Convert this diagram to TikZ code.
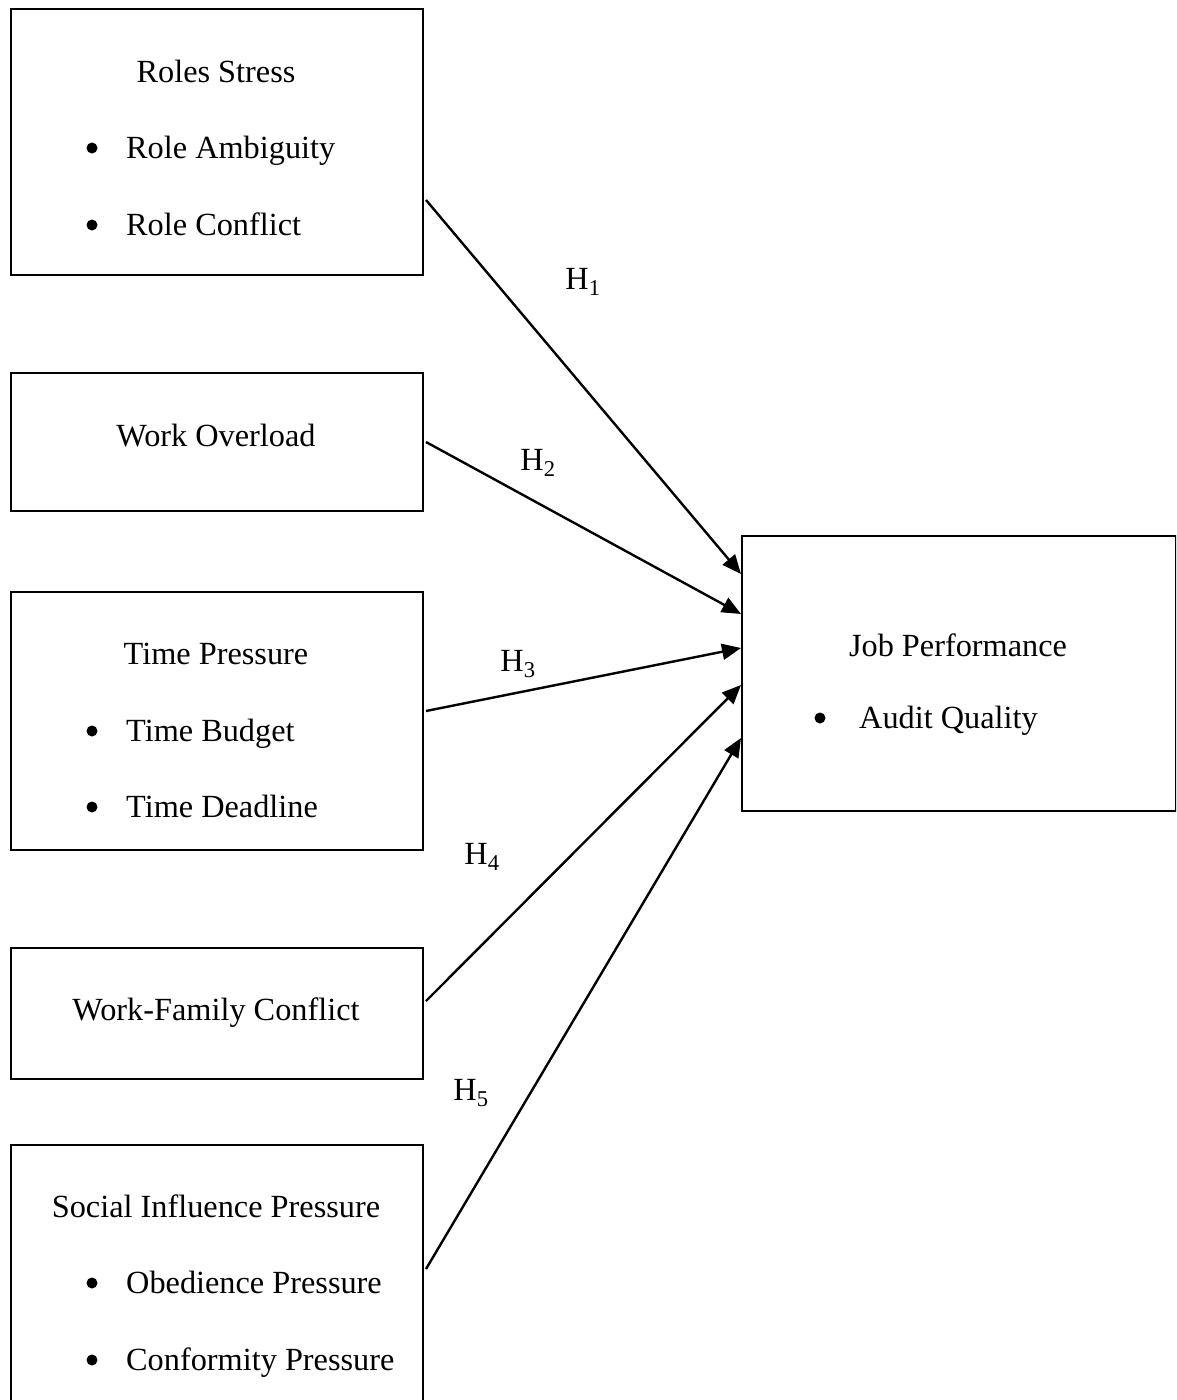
\documentclass[tikz,border=0pt]{standalone}
\usepackage{fontspec}
\setmainfont{Liberation Serif}
\usetikzlibrary{arrows.meta}
\begin{document}
\begin{tikzpicture}[x=1pt,y=-1pt,
  box/.style={draw,line width=2pt,minimum width=412pt,inner sep=0pt,anchor=north west},
  txt/.style={font=\fontsize{32.3}{38}\selectfont,inner sep=0pt},
  title/.style={txt,anchor=base},
  item/.style={txt,anchor=base west},
  bul/.style={circle,fill=black,inner sep=0pt,minimum size=11pt},
  hyp/.style={txt,anchor=base},
  link/.style={line width=2.4pt,-{Triangle[length=19pt,width=16pt]}}]
\clip (0,0) rectangle (1176,1400);
% boxes
\node[box,minimum height=266pt] (b1) at (10,8) {};
\node[box,minimum height=138pt] (b2) at (10,372) {};
\node[box,minimum height=258pt] (b3) at (10,591) {};
\node[box,minimum height=131pt] (b4) at (10,947) {};
\node[box,minimum height=266pt] (b5) at (10,1144) {};
\node[box,minimum width=434pt,minimum height=275pt] (jp) at (741,535) {};
% texts
\node[title] (t1) at (216,82) {Roles Stress};
\node[bul] (d11) at (92,148) {};
\node[item] (i11) at (126,158) {Role Ambiguity};
\node[bul] (d12) at (92,225) {};
\node[item] (i12) at (126,235) {Role Conflict};
\node[title] (t2) at (216,446) {Work Overload};
\node[title] (t3) at (216,664) {Time Pressure};
\node[bul] (d31) at (92,731) {};
\node[item] (i31) at (126,741) {Time Budget};
\node[bul] (d32) at (92,807) {};
\node[item] (i32) at (126,817) {Time Deadline};
\node[title] (t4) at (216,1020) {Work-Family Conflict};
\node[title] (t5) at (216,1217) {Social Influence Pressure};
\node[bul] (d51) at (92,1283) {};
\node[item] (i51) at (126,1293) {Obedience Pressure};
\node[bul] (d52) at (92,1360) {};
\node[item] (i52) at (126,1370) {Conformity Pressure};
\node[title] (tj) at (958,656) {Job Performance};
\node[bul] (dj) at (820,718) {};
\node[item] (ij) at (859,728) {Audit Quality};
% hypothesis labels
\node[hyp] (h1) at (583,289) {H\textsubscript{1}};
\node[hyp] (h2) at (538,470) {H\textsubscript{2}};
\node[hyp] (h3) at (518,671) {H\textsubscript{3}};
\node[hyp] (h4) at (482,864) {H\textsubscript{4}};
\node[hyp] (h5) at (471,1100) {H\textsubscript{5}};
% connectors
\draw[link] ([xshift=2pt,yshift=-58pt]b1.east) -- ([yshift=99.5pt]jp.west);
\draw[link] ([xshift=2pt]b2.east) -- ([yshift=59.5pt]jp.west);
\draw[link] ([xshift=2pt,yshift=10pt]b3.east) -- ([yshift=25.5pt]jp.west);
\draw[link] ([xshift=2pt,yshift=12.5pt]b4.east) -- ([yshift=-11.5pt]jp.west);
\draw[link] ([xshift=2pt,yshift=9pt]b5.east) -- ([yshift=-64.5pt]jp.west);
\end{tikzpicture}
\end{document}
